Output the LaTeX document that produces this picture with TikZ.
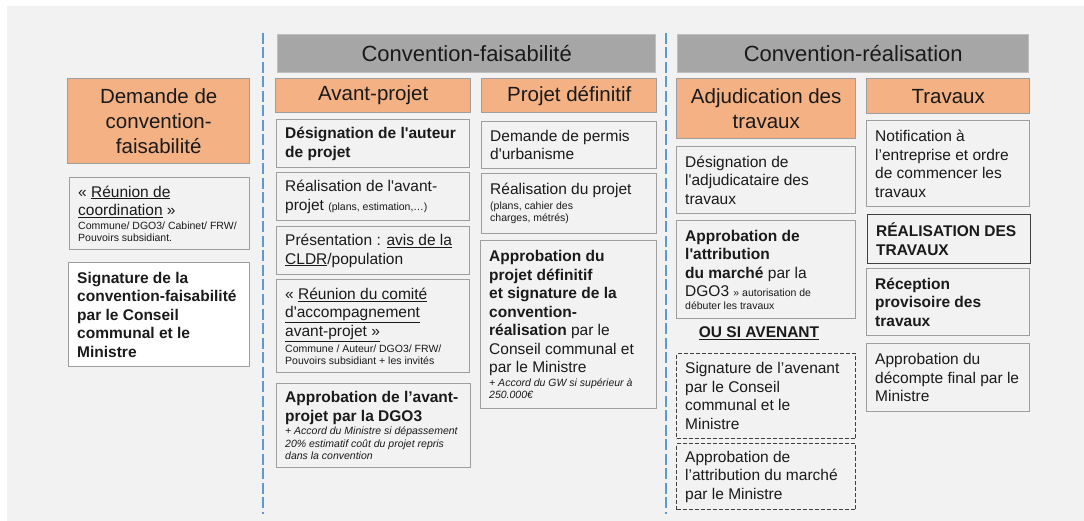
\documentclass[tikz,border=0pt]{standalone}
\usepackage{fontspec}
\setmainfont{Liberation Sans}[Ligatures=TeXOff]
\setlength\parindent{0pt}
\definecolor{bggray}{HTML}{F2F2F2}
\definecolor{framegray}{HTML}{9E9E9E}
\definecolor{orangef}{HTML}{F4B183}
\definecolor{hdrgray}{HTML}{A6A6A6}
\definecolor{hdrline}{HTML}{BFBFBF}
\definecolor{bluedash}{HTML}{5B9BD5}
\definecolor{darkline}{HTML}{3F3F3F}
\definecolor{txtcol}{HTML}{1A1A1A}
\newcommand\bodyf{\fontsize{15.5}{18.5}\selectfont}
\newcommand\smallf{\fontsize{10.5}{12.5}\selectfont}
\newcommand\hdrf{\fontsize{20.5}{25}\selectfont}
\newcommand\tophdrf{\fontsize{22}{26}\selectfont}
\tikzset{
  frame/.style={draw=framegray, line width=1.4pt, fill=bggray, anchor=north west, inner sep=0pt},
  hdr/.style={frame, fill=orangef, font=\hdrf, text=txtcol, align=center},
  tophdr/.style={frame, fill=hdrgray, draw=hdrline, font=\tophdrf, text=txtcol},
  txt/.style={anchor=west, align=flush left, inner sep=0pt, font=\bodyf, text=txtcol, text width=200pt},
  whitebox/.style={fill=white},
  darkbox/.style={draw=darkline},
  dashbox/.style={draw=darkline, dash pattern=on 4pt off 2pt},
  bluesep/.style={draw=bluedash, line width=2.6pt, dash pattern=on 11pt off 3.5pt},
}
\newcommand\fr[6]{\node[frame, minimum width=#4, minimum height=#5, #6] (#1) at (#2,#3) {};}
\newcommand\tx[3]{\node[txt] (#1) at ([xshift=9pt]#2.west) {#3};}
\begin{document}
\begin{tikzpicture}[x=1pt,y=-1pt]
\useasboundingbox (0,0) rectangle (1084,521);
\fill[white] (0,0) rectangle (1084,521);
\fill[bggray] (7,6) rectangle (1084,521);

% separators
\coordinate (s1a) at (263,33); \coordinate (s1b) at (263,514);
\coordinate (s2a) at (666,33); \coordinate (s2b) at (666,514);
\draw[bluesep] (s1a) -- (s1b);
\draw[bluesep] (s2a) -- (s2b);

% top headers
\node[tophdr, minimum width=378, minimum height=38] (cf) at (277,34) {Convention-faisabilité};
\node[tophdr, minimum width=351, minimum height=38] (cr) at (677,34) {Convention-réalisation};

% left column
\node[hdr, minimum width=182, minimum height=85] (h0) at (67,78) {Demande de\\convention-\\faisabilité};
\fr{l1}{69}{177}{180}{72}{}
\tx{l1t}{l1}{« \underline{Réunion de}\\\underline{coordination} »\par\vspace{1pt}{\smallf Commune/ DGO3/ Cabinet/ FRW/\par Pouvoirs subsidiant.\par}}
\fr{l2}{68}{262}{181}{104}{whitebox}
\tx{l2t}{l2}{{\bfseries Signature de la\\convention-faisabilité\\par le Conseil\\communal et le\\Ministre}}

% Avant-projet
\node[hdr, minimum width=195, minimum height=34] (ha) at (275,78) {Avant-projet};
\fr{a1}{276}{119}{193}{48}{}
\tx{a1t}{a1}{{\bfseries Désignation de l'auteur\\de projet}}
\fr{a2}{276}{172}{193}{48}{}
\tx{a2t}{a2}{Réalisation de l'avant-\\projet {\smallf (plans, estimation,…)}}
\fr{a3}{276}{226}{193}{48}{}
\tx{a3t}{a3}{Présentation : \underline{avis de la}\\\underline{CLDR}/population}
\fr{a4}{276}{279}{193}{93}{}
\tx{a4t}{a4}{« \underline{Réunion du comité}\\\underline{d'accompagnement}\\\underline{avant-projet »}\par\vspace{2pt}{\smallf Commune / Auteur/ DGO3/ FRW/\par Pouvoirs subsidiant + les invités\par}}
\fr{a5}{276}{383}{194}{84}{}
\tx{a5t}{a5}{{\bfseries Approbation de l’avant-\\projet par la DGO3}\par\vspace{1pt}{\smallf\itshape + Accord du Ministre si dépassement\par 20\% estimatif coût du projet repris\par dans la convention\par}}

% Projet definitif
\node[hdr, minimum width=175, minimum height=34] (hp) at (481,78) {Projet définitif};
\fr{p1}{481}{121}{175}{47}{}
\tx{p1t}{p1}{Demande de permis\\d'urbanisme}
\fr{p2}{481}{173}{175}{60}{}
\tx{p2t}{p2}{Réalisation du projet\par\vspace{2pt}{\smallf (plans, cahier des\par charges, métrés)\par}}
\fr{p3}{480}{240}{176}{168}{}
\tx{p3t}{p3}{{\bfseries Approbation du\\projet définitif\\et signature de la\\convention-\\réalisation} par le\\Conseil communal et\\par le Ministre\par\vspace{1pt}{\smallf\itshape + Accord du GW si supérieur à\par 250.000€\par}}

% Adjudication
\node[hdr, minimum width=179, minimum height=60] (hj) at (676,78) {Adjudication des\\travaux};
\fr{j1}{676}{146}{179}{67}{}
\tx{j1t}{j1}{Désignation de\\l'adjudicataire des\\travaux}
\fr{j2}{676}{220}{179}{98}{}
\tx{j2t}{j2}{{\bfseries Approbation de\\l'attribution\\du marché} par la\\DGO3 {\smallf » autorisation de}\par{\smallf débuter les travaux\par}}
\node[font=\bodyf\bfseries, text=txtcol, inner sep=0pt] (ou) at (759,333) {\underline{OU SI AVENANT}};
\fr{j3}{676}{353}{179}{85}{dashbox}
\tx{j3t}{j3}{Signature de l’avenant\\par le Conseil\\communal et le\\Ministre}
\fr{j4}{676}{443}{179}{66}{dashbox}
\tx{j4t}{j4}{Approbation de\\l’attribution du marché\\par le Ministre}

% Travaux
\node[hdr, minimum width=163, minimum height=35] (ht) at (866,78) {Travaux};
\fr{t1}{866}{120}{163}{86}{}
\tx{t1t}{t1}{Notification à\\l’entreprise et ordre\\de commencer les\\travaux}
\fr{t2}{867}{214}{163}{49}{darkbox}
\tx{t2t}{t2}{{\bfseries RÉALISATION DES\\TRAVAUX}}
\fr{t3}{866}{268}{163}{67}{}
\tx{t3t}{t3}{{\bfseries Réception\\provisoire des\\travaux}}
\fr{t4}{866}{343}{163}{68}{}
\tx{t4t}{t4}{Approbation du\\décompte final par le\\Ministre}
\end{tikzpicture}
\end{document}
